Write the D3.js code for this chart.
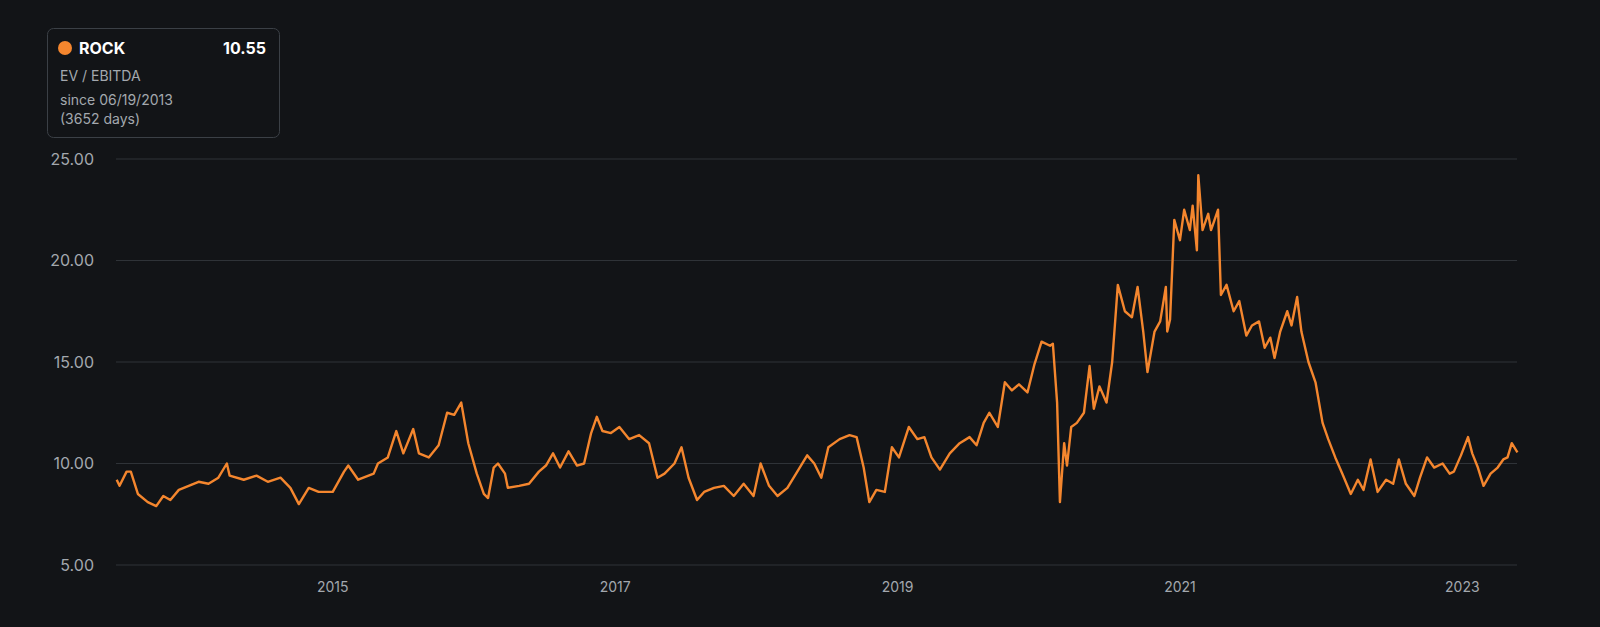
<!DOCTYPE html>
<html><head><meta charset="utf-8">
<script src="https://cdn.jsdelivr.net/npm/d3@7"></script>
<style>body{margin:0;background:#121417;}svg{display:block;font-family:Inter,"Noto Sans",sans-serif;}</style>
</head><body><svg id="c" width="1600" height="627"></svg>
<script>
const years=[2013.47,2013.49,2013.54,2013.57,2013.62,2013.69,2013.75,2013.80,2013.85,2013.91,2013.98,2014.05,2014.12,2014.19,2014.25,2014.27,2014.37,2014.46,2014.54,2014.63,2014.70,2014.76,2014.83,2014.90,2015.00,2015.08,2015.11,2015.18,2015.29,2015.32,2015.39,2015.45,2015.50,2015.57,2015.61,2015.68,2015.75,2015.81,2015.86,2015.91,2015.96,2016.02,2016.07,2016.10,2016.14,2016.17,2016.22,2016.24,2016.32,2016.39,2016.46,2016.51,2016.56,2016.61,2016.67,2016.73,2016.78,2016.83,2016.87,2016.91,2016.97,2017.03,2017.10,2017.17,2017.24,2017.30,2017.35,2017.42,2017.47,2017.52,2017.58,2017.63,2017.70,2017.77,2017.84,2017.91,2017.98,2018.03,2018.09,2018.15,2018.22,2018.29,2018.36,2018.41,2018.46,2018.51,2018.59,2018.66,2018.71,2018.76,2018.80,2018.85,2018.91,2018.96,2019.01,2019.08,2019.14,2019.19,2019.24,2019.30,2019.37,2019.44,2019.51,2019.56,2019.61,2019.65,2019.71,2019.76,2019.81,2019.86,2019.92,2019.97,2020.02,2020.08,2020.10,2020.13,2020.15,2020.18,2020.20,2020.23,2020.27,2020.32,2020.36,2020.39,2020.43,2020.48,2020.52,2020.56,2020.61,2020.66,2020.70,2020.74,2020.77,2020.82,2020.86,2020.90,2020.91,2020.93,2020.96,2021.00,2021.03,2021.07,2021.09,2021.12,2021.13,2021.16,2021.20,2021.22,2021.27,2021.29,2021.33,2021.38,2021.42,2021.47,2021.51,2021.56,2021.60,2021.64,2021.67,2021.71,2021.76,2021.79,2021.83,2021.86,2021.91,2021.96,2022.01,2022.05,2022.10,2022.15,2022.21,2022.26,2022.30,2022.35,2022.40,2022.46,2022.51,2022.55,2022.60,2022.66,2022.70,2022.75,2022.80,2022.86,2022.91,2022.94,2022.99,2023.04,2023.07,2023.11,2023.15,2023.20,2023.25,2023.29,2023.32,2023.35,2023.39];
const values=[9.2,8.9,9.6,9.6,8.5,8.1,7.9,8.4,8.2,8.7,8.9,9.1,9.0,9.3,10.0,9.4,9.2,9.4,9.1,9.3,8.8,8.0,8.8,8.6,8.6,9.6,9.9,9.2,9.5,10.0,10.3,11.6,10.5,11.7,10.5,10.3,10.9,12.5,12.4,13.0,11.0,9.5,8.5,8.3,9.8,10.0,9.5,8.8,8.9,9.0,9.6,9.9,10.5,9.8,10.6,9.9,10.0,11.5,12.3,11.6,11.5,11.8,11.2,11.4,11.0,9.3,9.5,10.0,10.8,9.3,8.2,8.6,8.8,8.9,8.4,9.0,8.4,10.0,8.9,8.4,8.8,9.6,10.4,10.0,9.3,10.8,11.2,11.4,11.3,9.8,8.1,8.7,8.6,10.8,10.3,11.8,11.2,11.3,10.3,9.7,10.5,11.0,11.3,10.9,12.0,12.5,11.8,14.0,13.6,13.9,13.5,14.9,16.0,15.8,15.9,13.0,8.1,11.0,9.9,11.8,12.0,12.5,14.8,12.7,13.8,13.0,15.0,18.8,17.5,17.2,18.7,16.5,14.5,16.5,17.0,18.7,16.5,17.1,22.0,21.0,22.5,21.5,22.7,20.5,24.2,21.5,22.3,21.5,22.5,18.3,18.8,17.5,18.0,16.3,16.8,17.0,15.7,16.2,15.2,16.5,17.5,16.8,18.2,16.5,15.0,14.0,12.0,11.2,10.3,9.5,8.5,9.2,8.7,10.2,8.6,9.2,9.0,10.2,9.0,8.4,9.3,10.3,9.8,10.0,9.5,9.6,10.4,11.3,10.5,9.8,8.9,9.5,9.8,10.2,10.3,11.0,10.55];
const yTicks=[5,10,15,20,25];
const xTicks=[2015,2017,2019,2021,2023];
const svg=d3.select("#c");
const x=d3.scaleLinear().domain([2013.465,2023.387]).range([116,1517]);
const y=d3.scaleLinear().domain([5,25]).range([565,159]);
const grid=svg.append("g");
yTicks.forEach(t=>{
 grid.append("line").attr("x1",116).attr("x2",1517).attr("y1",y(t)).attr("y2",y(t)).attr("stroke","#2f3338").attr("stroke-width",1);
 grid.append("text").attr("x",94).attr("y",y(t)).attr("dy","0.35em").attr("text-anchor","end").attr("fill","#a3a8ae").attr("font-size",16).text(t.toFixed(2));
});
xTicks.forEach(t=>svg.append("text").attr("x",x(t)).attr("y",592).attr("text-anchor","middle").attr("fill","#a3a8ae").attr("font-size",14).text(t));
svg.append("path").datum(years.map((d,i)=>[d,values[i]]))
 .attr("d",d3.line().x(d=>x(d[0])).y(d=>y(d[1])))
 .attr("fill","none").attr("stroke","#f4862e").attr("stroke-width",2.4).attr("stroke-linejoin","round");
const lg=svg.append("g");
lg.append("rect").attr("x",47.5).attr("y",28.5).attr("width",232).attr("height",109).attr("rx",6).attr("fill","#121417").attr("stroke","#3b4046");
lg.append("circle").attr("cx",65).attr("cy",48).attr("r",7).attr("fill","#f4862e");
lg.append("text").attr("x",79).attr("y",54).attr("fill","#fff").attr("font-size",16).attr("font-weight",700).text("ROCK");
lg.append("text").attr("x",266).attr("y",54).attr("text-anchor","end").attr("fill","#fff").attr("font-size",16).attr("font-weight",700).text(values[values.length-1].toFixed(2));
[["EV / EBITDA",81],["since 06/19/2013",105],["(3652 days)",124]].forEach(([t,yy])=>lg.append("text").attr("x",60).attr("y",yy).attr("fill","#a3a8ae").attr("font-size",14).text(t));
</script></body></html>
